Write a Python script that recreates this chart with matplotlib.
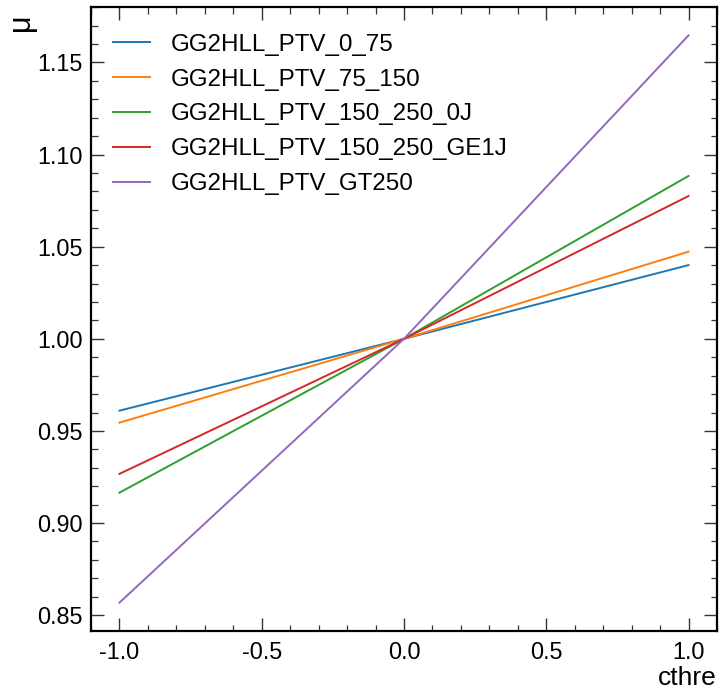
import matplotlib
matplotlib.use("Agg")
import matplotlib.pyplot as plt
from matplotlib.ticker import MultipleLocator

# Signal-strength scaling versus the cthre coefficient for each STXS bin
cthre = [-1.0, 0.0, 1.0]
bins = [
    "GG2HLL_PTV_0_75",
    "GG2HLL_PTV_75_150",
    "GG2HLL_PTV_150_250_0J",
    "GG2HLL_PTV_150_250_GE1J",
    "GG2HLL_PTV_GT250",
]
mu_0_75 = [0.9610, 1.0, 1.0400]
mu_75_150 = [0.9545, 1.0, 1.0473]
mu_150_250_0j = [0.9165, 1.0, 1.0884]
mu_150_250_ge1j = [0.9267, 1.0, 1.0775]
mu_gt250 = [0.8568, 1.0, 1.1647]
series = [mu_0_75, mu_75_150, mu_150_250_0j, mu_150_250_ge1j, mu_gt250]

plt.rcParams["font.family"] = ["Liberation Sans", "DejaVu Sans"]

fig = plt.figure(figsize=(7.2, 6.91), dpi=100)
ax = fig.add_axes([91 / 720, 60 / 691, 626 / 720, 624 / 691])

colors = ["#1f77b4", "#ff7f0e", "#2ca02c", "#d62728", "#9467bd"]
for name, vals, c in zip(bins, series, colors):
    ax.plot(cthre, vals, color=c, lw=1.4, label=name)

ax.xaxis.set_major_locator(MultipleLocator(0.5))
ax.xaxis.set_minor_locator(MultipleLocator(0.1))
ax.yaxis.set_major_locator(MultipleLocator(0.05))
ax.yaxis.set_minor_locator(MultipleLocator(0.01))
ax.xaxis.set_major_formatter(plt.FormatStrFormatter("%.1f"))
ax.yaxis.set_major_formatter(plt.FormatStrFormatter("%.2f"))

ax.tick_params(which="both", direction="in", top=True, right=True,
               labelsize=16.8, color="#333333")
ax.tick_params(axis="x", which="major", pad=7)
ax.tick_params(axis="y", which="major", pad=6)
ax.tick_params(which="major", length=13 * 0.72, width=1.0)
ax.tick_params(which="minor", length=6.5 * 0.72, width=0.9)
for s in ax.spines.values():
    s.set_linewidth(1.6)

ax.set_xlabel("cthre", fontsize=19, loc="right", va="baseline")
ax.set_ylabel("μ", fontsize=22, loc="top")
ax.xaxis.set_label_coords(1.0, -0.0865)
ax.yaxis.set_label_coords(-0.088, 0.99)

ax.legend(loc="upper left", frameon=False, fontsize=17.4, handlelength=1.55,
          handletextpad=0.85, labelspacing=0.53, borderaxespad=0.5,
          bbox_to_anchor=(0.0, 1.0 - 5 / 624))

fig.savefig("out.png", dpi=100)
